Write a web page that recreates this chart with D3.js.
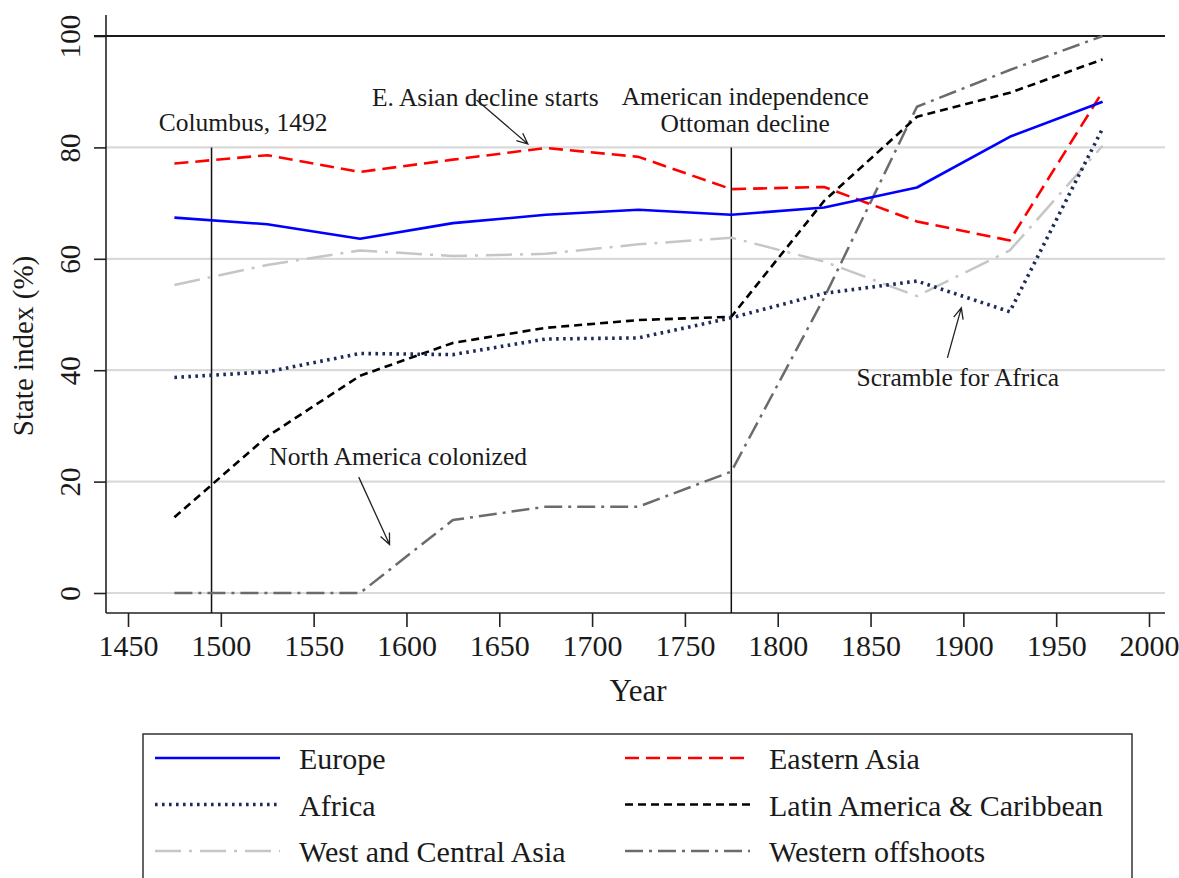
<!DOCTYPE html>
<html>
<head>
<meta charset="utf-8">
<script src="https://cdn.jsdelivr.net/npm/d3@7"></script>
<style>
  html, body { margin: 0; padding: 0; background: #fff; }
  svg { display: block; font-family: "Liberation Serif", "Times New Roman", serif; }
</style>
</head>
<body>
<svg id="chart" width="1179" height="878"></svg>
<script>
// Half-century observation points
const years = [1475, 1525, 1575, 1625, 1675, 1725, 1775, 1825, 1875, 1925, 1975];

// State index (%) by region
const europe           = [67.4, 66.2, 63.6, 66.4, 67.9, 68.8, 67.9, 69.2, 72.8, 81.9, 88.2];
const easternAsia      = [77.1, 78.6, 75.6, 77.8, 79.9, 78.3, 72.5, 72.9, 66.7, 63.3, 90.0];
const africa           = [38.7, 39.7, 43.0, 42.8, 45.6, 45.8, 49.4, 53.8, 56.0, 50.5, 83.4];
const westCentralAsia  = [55.3, 58.9, 61.5, 60.5, 60.9, 62.6, 63.8, 59.5, 53.3, 61.5, 80.3];
const latinAmerica     = [13.6, 28.1, 39.0, 44.9, 47.6, 49.0, 49.6, 70.4, 85.5, 89.8, 95.8];
const westernOffshoots = [0.0, 0.0, 0.0, 13.1, 15.5, 15.5, 21.8, 53.0, 87.3, 93.9, 100.0];

const xTicks = [1450, 1500, 1550, 1600, 1650, 1700, 1750, 1800, 1850, 1900, 1950, 2000];
const yTicks = [0, 20, 40, 60, 80, 100];

// Series styling (drawing order: back to front)
const series = [
  { name: "West and Central Asia",     values: westCentralAsia,  color: "#c6c6c6", width: 2.5, dash: "26,8,3,8" },
  { name: "Western offshoots",         values: westernOffshoots, color: "#6b6b6b", width: 2.5, dash: "18,6,3,6" },
  { name: "Latin America & Caribbean", values: latinAmerica,     color: "#000000", width: 2.6, dash: "8,5" },
  { name: "Africa",                    values: africa,           color: "#1e2b58", width: 3.6, dash: "2.6,4.4" },
  { name: "Eastern Asia",              values: easternAsia,      color: "#ff0000", width: 2.6, dash: "14,7" },
  { name: "Europe",                    values: europe,           color: "#0000ff", width: 2.6, dash: null }
];
const legendOrder = ["Europe", "Eastern Asia", "Africa", "Latin America & Caribbean",
                     "West and Central Asia", "Western offshoots"];

// Historical markers and notes
const eventLines = [ { year: 1495, from: 80 }, { year: 1775, from: 80 } ];
const notes = [
  { lines: ["Columbus, 1492"], year: 1512, value: 82.9 },
  { lines: ["E. Asian decline starts"], year: 1642.5, value: 87.5 },
  { lines: ["American independence", "Ottoman decline"], year: 1782.5, value: 87.6 },
  { lines: ["North America colonized"], year: 1595.5, value: 23.0 },
  { lines: ["Scramble for Africa"], year: 1897, value: 37.2 }
];
const arrows = [
  { from: [1637.8, 88.5], to: [1665.4, 80.6] },
  { from: [1574.3, 20.8], to: [1590.9, 8.7] },
  { from: [1891.4, 42.2], to: [1898.9, 51.2] }
];

const svg = d3.select("#chart");
const frame = { left: 106, right: 1165, top: 15, bottom: 613 };

const x = d3.scaleLinear().domain([1450, 2000]).range([128, 1149]);
const y = d3.scaleLinear().domain([0, 100]).range([593, 36]);

// Horizontal grid
svg.append("g")
  .selectAll("line")
  .data(yTicks.filter(d => d !== 100))
  .join("line")
  .attr("x1", frame.left).attr("x2", frame.right)
  .attr("y1", d => y(d)).attr("y2", d => y(d))
  .attr("stroke", "#dadada").attr("stroke-width", 2.2);

// Y axis
const yAxis = svg.append("g")
  .attr("transform", `translate(${frame.left},0)`)
  .call(d3.axisLeft(y).tickValues(yTicks).tickSize(12).tickPadding(0));
yAxis.select(".domain").attr("d", `M0,${frame.top}V${frame.bottom}`)
  .attr("stroke", "#222").attr("stroke-width", 1.6);
yAxis.selectAll(".tick line").attr("stroke", "#222").attr("stroke-width", 1.6);
yAxis.selectAll(".tick text")
  .attr("x", null).attr("dy", null)
  .attr("text-anchor", "middle")
  .attr("transform", "translate(-26,0) rotate(-90)")
  .attr("font-size", 29).attr("fill", "#1a1a1a")
  .style("font-family", "Liberation Serif, serif");

// X axis
const xAxis = svg.append("g")
  .attr("transform", `translate(0,${frame.bottom})`)
  .call(d3.axisBottom(x).tickValues(xTicks).tickFormat(d3.format("d")).tickSize(14).tickPadding(8));
xAxis.select(".domain").attr("d", `M${frame.left},0H${frame.right}`)
  .attr("stroke", "#222").attr("stroke-width", 1.6);
xAxis.selectAll(".tick line").attr("stroke", "#222").attr("stroke-width", 1.6);
xAxis.selectAll(".tick text")
  .attr("font-size", 30).attr("fill", "#1a1a1a")
  .style("font-family", "Liberation Serif, serif");

// Reference line at 100
svg.append("line")
  .attr("x1", frame.left - 12).attr("x2", frame.right)
  .attr("y1", y(100)).attr("y2", y(100))
  .attr("stroke", "#1a1a1a").attr("stroke-width", 2.2);

// Axis titles
svg.append("text")
  .attr("transform", `translate(33,${(frame.top + frame.bottom) / 2 + 32}) rotate(-90)`)
  .attr("text-anchor", "middle").attr("font-size", 29).attr("fill", "#1a1a1a")
  .text("State index (%)");
svg.append("text")
  .attr("x", 638).attr("y", 701)
  .attr("text-anchor", "middle").attr("font-size", 31).attr("fill", "#1a1a1a")
  .text("Year");

// Event lines
svg.append("g")
  .selectAll("line")
  .data(eventLines)
  .join("line")
  .attr("x1", d => x(d.year)).attr("x2", d => x(d.year))
  .attr("y1", d => y(d.from)).attr("y2", frame.bottom)
  .attr("stroke", "#111").attr("stroke-width", 1.5);

// Series lines
const line = d3.line().x((d, i) => x(years[i])).y(d => y(d));
svg.append("g")
  .selectAll("path")
  .data(series)
  .join("path")
  .attr("d", d => line(d.values))
  .attr("fill", "none")
  .attr("stroke", d => d.color)
  .attr("stroke-width", d => d.width)
  .attr("stroke-dasharray", d => d.dash)
  .attr("stroke-linejoin", "round");

// Notes
const noteG = svg.append("g").attr("font-size", 25.5).attr("fill", "#1a1a1a");
notes.forEach(n => {
  n.lines.forEach((t, k) => {
    noteG.append("text")
      .attr("x", x(n.year)).attr("y", y(n.value) + k * 27)
      .attr("text-anchor", "middle")
      .text(t);
  });
});

// Arrows with open heads
const arrowG = svg.append("g").attr("stroke", "#222").attr("stroke-width", 1.3).attr("fill", "none");
arrows.forEach(a => {
  const x1 = x(a.from[0]), y1 = y(a.from[1]);
  const x2 = x(a.to[0]), y2 = y(a.to[1]);
  const ang = Math.atan2(y2 - y1, x2 - x1);
  const len = 12, spread = 0.42;
  arrowG.append("path")
    .attr("d", `M${x1},${y1}L${x2},${y2}` +
      `M${x2 - len * Math.cos(ang - spread)},${y2 - len * Math.sin(ang - spread)}L${x2},${y2}` +
      `L${x2 - len * Math.cos(ang + spread)},${y2 - len * Math.sin(ang + spread)}`);
});

// Legend
const legend = svg.append("g");
legend.append("rect")
  .attr("x", 143).attr("y", 734).attr("width", 989).attr("height", 170)
  .attr("fill", "none").attr("stroke", "#333").attr("stroke-width", 1.5);
const bySeries = new Map(series.map(s => [s.name, s]));
legendOrder.forEach((name, i) => {
  const s = bySeries.get(name);
  const col = i % 2, row = Math.floor(i / 2);
  const lx = col === 0 ? 155 : 625;
  const ly = 758 + row * 46.5;
  legend.append("line")
    .attr("x1", lx).attr("x2", lx + 125)
    .attr("y1", ly).attr("y2", ly)
    .attr("stroke", s.color).attr("stroke-width", s.width)
    .attr("stroke-dasharray", s.dash);
  legend.append("text")
    .attr("x", lx + 144).attr("y", ly + 11)
    .attr("font-size", 30).attr("fill", "#1a1a1a")
    .text(name);
});
</script>
</body>
</html>
